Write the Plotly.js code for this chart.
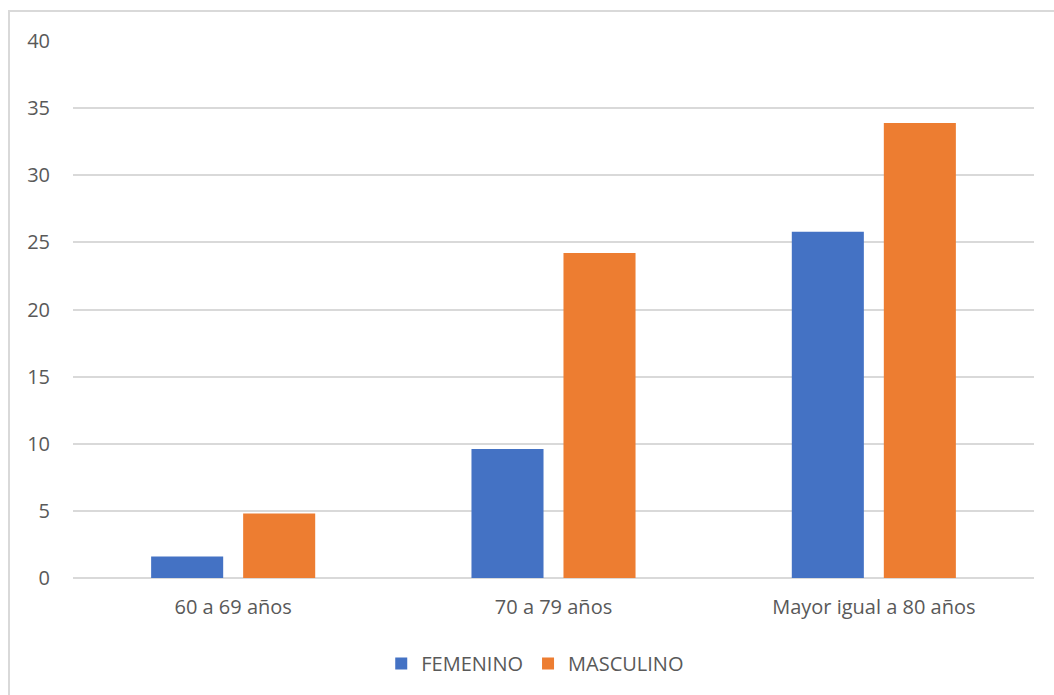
<!DOCTYPE html>
<html>
<head>
<meta charset="utf-8">
<script src="https://cdn.plot.ly/plotly-3.0.1.min.js"></script>
<style>
  html, body { margin: 0; padding: 0; background: #fff; overflow: hidden; }
  #chart { position: absolute; left: 0; top: 0; width: 1054px; height: 695px; }
  #frame { position: absolute; left: 8px; top: 10px; width: 1200px; height: 900px;
           border-left: 2px solid #d9d9d9; border-top: 2px solid #d9d9d9; pointer-events: none; }
</style>
</head>
<body>
<div id="chart"></div>
<div id="frame"></div>
<script>
// Age groups and percentages by sex
const categories = ['60 a 69 años', '70 a 79 años', 'Mayor igual a 80 años'];
const femenino = [1.6, 9.6, 25.8];
const masculino = [4.8, 24.2, 33.9];
const yTicks = [0, 5, 10, 15, 20, 25, 30, 35, 40];

const textColor = '#595959';
const gridColor = '#d9d9d9';

const traces = [
  { type: 'bar', name: 'FEMENINO', x: categories, y: femenino,
    marker: { color: '#4472C4' }, hoverinfo: 'x+y+name' },
  { type: 'bar', name: 'MASCULINO', x: categories, y: masculino,
    marker: { color: '#ED7D31' }, hoverinfo: 'x+y+name' }
];

const layout = {
  width: 1054, height: 695,
  paper_bgcolor: '#ffffff', plot_bgcolor: '#ffffff',
  margin: { l: 73, r: 20, t: 41, b: 117, pad: 0 },
  font: { family: 'Open Sans, sans-serif', size: 20, color: textColor },
  barmode: 'group',
  bargap: 0.4255,
  bargroupgap: 0.217,
  showlegend: true,
  legend: {
    orientation: 'h', x: 0.481, xanchor: 'center', y: -0.159, yanchor: 'middle',
    font: { size: 20, color: textColor }, bgcolor: 'rgba(0,0,0,0)'
  },
  xaxis: {
    type: 'category', showgrid: false, zeroline: false, showline: false,
    ticks: '', ticklabelstandoff: 15, tickfont: { size: 20, color: textColor }
  },
  yaxis: {
    range: [0, 40], tickmode: 'array', tickvals: yTicks, ticktext: yTicks.map(String),
    showgrid: true, gridcolor: gridColor, gridwidth: 2,
    zeroline: true, zerolinecolor: gridColor, zerolinewidth: 2,
    showline: false, ticks: '', ticklabelstandoff: 22,
    tickfont: { size: 20, color: textColor }
  }
};

Plotly.newPlot('chart', traces, layout, { displayModeBar: false, staticPlot: true });
</script>
</body>
</html>
